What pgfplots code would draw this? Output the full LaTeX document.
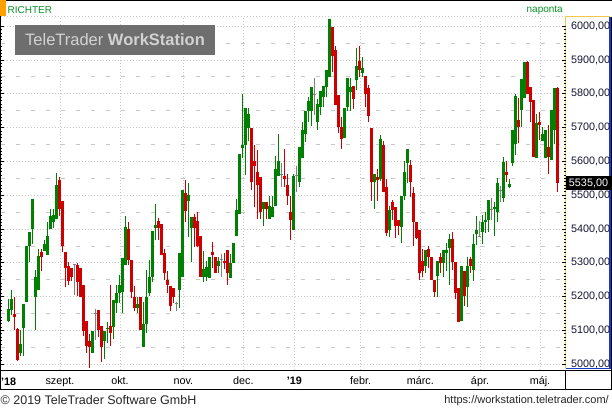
\documentclass[border=0pt]{standalone}
\usepackage{fontspec}
\setmainfont{Liberation Sans}
\usepackage{pgfplots}
\usepackage{pgfplotstable}
\pgfplotsset{compat=1.18}

\definecolor{cgreen}{RGB}{0,128,0}
\definecolor{cred}{RGB}{204,0,0}
\definecolor{cdoji}{RGB}{128,128,128}
\definecolor{gridgray}{RGB}{200,200,200}
\definecolor{ticktext}{RGB}{20,20,50}
\definecolor{cname}{RGB}{10,145,40}
\definecolor{corange}{RGB}{255,160,0}
\definecolor{cyellow}{RGB}{240,200,70}
\definecolor{cblue}{RGB}{20,60,200}
\definecolor{cwm}{RGB}{110,110,110}
\definecolor{cwmtext}{RGB}{210,210,210}

% daily candles: x = trading day, o h l c
\pgfplotstableread{
x o h l c
0 5129 5193 5126 5164
1 5161 5220 5146 5193
4 5034 5100 5025 5060
5 5107 5179 5025 5179
6 5185 5350 5185 5350
7 5350 5392 5301 5392
8 5401 5489 5356 5489
9 5200 5279 5100 5257
10 5220 5340 5220 5321
12 5335 5368 5335 5356
13 5322 5420 5322 5379
14 5401 5459 5401 5439
15 5421 5459 5403 5442
16 5431 5567 5431 5531
28 5034 5099 5034 5099
32 5070 5099 5015 5099
33 5105 5126 5064 5108
35 5111 5190 5075 5190
36 5181 5235 5151 5210
37 5210 5264 5181 5235
38 5215 5314 5151 5314
39 5294 5439 5294 5406
43 5166 5200 5151 5179
45 5050 5185 5050 5119
46 5119 5279 5092 5200
47 5212 5309 5202 5259
48 5257 5393 5242 5393
49 5403 5475 5366 5412
57 5220 5329 5166 5329
58 5259 5516 5259 5516
60 5482 5536 5376 5501
61 5403 5435 5301 5435
65 5257 5334 5242 5281
66 5257 5306 5247 5288
67 5255 5318 5255 5318
70 5292 5316 5269 5306
74 5255 5326 5255 5298
75 5298 5358 5298 5358
76 5378 5489 5378 5457
77 5445 5622 5445 5622
78 5639 5800 5610 5650
79 5650 5759 5561 5759
80 5699 5759 5660 5739
85 5459 5479 5409 5479
87 5430 5499 5430 5469
88 5435 5499 5435 5464
89 5469 5617 5469 5578
90 5558 5680 5558 5600
95 5398 5563 5398 5558
97 5538 5644 5523 5644
98 5609 5716 5609 5694
99 5681 5750 5658 5750
100 5750 5790 5718 5780
101 5750 5819 5704 5819
103 5718 5785 5694 5770
104 5760 5809 5737 5809
105 5790 5824 5760 5824
106 5819 5869 5790 5869
107 5849 6020 5849 6020
112 5668 5758 5668 5758
113 5760 5848 5750 5848
114 5805 5848 5750 5819
116 5841 5935 5811 5881
118 5862 5910 5849 5876
122 5538 5563 5459 5563
124 5548 5679 5543 5665
127 5398 5469 5377 5455
131 5405 5499 5358 5499
132 5499 5600 5486 5568
133 5595 5637 5535 5637
139 5292 5339 5269 5339
143 5262 5306 5198 5306
145 5298 5339 5257 5339
146 5329 5359 5275 5339
147 5343 5384 5234 5369
151 5127 5292 5127 5292
153 5228 5318 5168 5292
155 5279 5384 5247 5356
156 5384 5437 5354 5398
158 5392 5441 5357 5421
159 5421 5449 5388 5427
160 5426 5486 5390 5486
162 5459 5479 5378 5464
163 5449 5550 5422 5536
165 5493 5614 5479 5599
167 5523 5548 5520 5533
168 5594 5694 5585 5694
169 5651 5799 5619 5794
171 5753 5844 5701 5844
172 5789 5895 5789 5895
176 5609 5740 5609 5715
178 5659 5703 5659 5681
179 5609 5694 5609 5694
181 5604 5753 5604 5753
182 5694 5816 5651 5816
}\upcandles

\pgfplotstableread{
x o h l c
2 5150 5200 5100 5141
3 5105 5107 5009 5011
11 5331 5340 5277 5316
17 5546 5553 5439 5459
18 5482 5482 5331 5350
19 5331 5331 5227 5286
20 5291 5301 5235 5245
21 5286 5286 5245 5259
23 5294 5299 5202 5242
24 5284 5284 5200 5200
25 5235 5235 5082 5097
26 5128 5128 5032 5054
27 5069 5089 4990 5050
30 5161 5161 5080 5100
31 5113 5113 5006 5050
34 5113 5235 5055 5092
40 5400 5422 5294 5309
41 5309 5309 5195 5215
42 5200 5230 5156 5166
44 5200 5200 5100 5100
50 5424 5432 5368 5403
51 5415 5415 5324 5324
52 5329 5340 5250 5271
53 5250 5277 5210 5235
54 5230 5230 5156 5171
55 5225 5225 5181 5200
59 5506 5546 5422 5452
62 5435 5445 5346 5403
63 5423 5450 5346 5349
64 5379 5379 5257 5257
68 5333 5363 5285 5324
69 5318 5318 5269 5269
72 5306 5328 5282 5298
73 5339 5339 5234 5269
81 5699 5699 5516 5538
82 5600 5650 5464 5585
83 5570 5634 5430 5529
84 5553 5553 5430 5450
86 5479 5479 5430 5459
92 5558 5637 5524 5548
93 5529 5563 5472 5499
94 5449 5499 5368 5428
108 5999 5999 5864 5911
109 5931 5940 5767 5767
110 5797 5797 5684 5701
111 5701 5731 5637 5666
115 5824 5824 5755 5785
117 5898 5940 5849 5871
119 5854 5854 5760 5800
120 5816 5826 5718 5734
121 5699 5699 5484 5538
123 5553 5578 5484 5545
125 5650 5659 5508 5509
126 5524 5548 5380 5387
128 5479 5487 5428 5457
129 5464 5464 5374 5408
130 5428 5428 5381 5408
134 5588 5603 5494 5538
135 5507 5524 5349 5422
136 5420 5420 5369 5373
137 5398 5398 5249 5269
138 5306 5341 5257 5277
140 5341 5349 5286 5318
141 5318 5318 5249 5249
142 5249 5249 5198 5213
144 5318 5328 5269 5298
148 5369 5390 5279 5303
149 5303 5303 5193 5210
150 5226 5226 5124 5124
152 5277 5277 5173 5203
154 5311 5318 5269 5292
166 5569 5602 5538 5559
170 5723 5789 5653 5701
173 5895 5898 5799 5799
174 5819 5819 5718 5775
175 5783 5783 5614 5614
177 5718 5745 5663 5708
180 5643 5708 5564 5614
183 5816 5819 5508 5535
}\downcandles

\pgfplotstableread{
x o h l c
22 5294 5294 5205 5294
29 5149 5164 5072 5149
56 5181 5185 5156 5181
71 5310 5326 5257 5310
91 5562 5595 5524 5562
96 5558 5585 5508 5558
102 5797 5846 5737 5797
157 5377 5424 5375 5377
161 5457 5493 5427 5457
164 5513 5528 5479 5513
}\flatcandles

\newcommand{\lbl}{\fontsize{10.8bp}{12bp}\selectfont}

\begin{document}
\begin{tikzpicture}
\path[use as bounding box, fill=white] (0,0) rectangle (612bp,409bp);
% frame
\draw[black, line width=1bp] (0,408.5bp) -- (612bp,408.5bp);
\draw[black, line width=1bp] (0.5bp,409bp) -- (0.5bp,19.3bp);
\draw[black, line width=1bp] (611.5bp,392.3bp) -- (611.5bp,19.3bp);
\draw[black, line width=1bp] (0,38.5bp) -- (612bp,38.5bp);
\draw[black, line width=1bp] (0,19.3bp) -- (612bp,19.3bp);
\draw[black, line width=1bp] (565.5bp,38.5bp) -- (565.5bp,19.3bp);
\fill[corange] (0,392.5bp) rectangle (6bp,408.5bp);
\draw[gridgray, dash pattern=on 1bp off 2bp, line width=0.8bp] (1bp,392.3bp) -- (565bp,392.3bp);
\draw[cyellow, line width=1.2bp] (565.7bp,40.7bp) -- (565.7bp,392.3bp) -- (610bp,392.3bp);
\draw[cblue, line width=1.5bp] (565.7bp,40.7bp) -- (610bp,40.7bp) -- (610bp,392.3bp);

\begin{axis}[
    at={(0.5bp,38.5bp)}, anchor=south west,
    scale only axis, width=565bp, height=353.8bp,
    xmin=-2.6, xmax=185.73, ymin=4981.4, ymax=6028.1,
    clip=false,
    axis line style={draw=none},
    tick align=inside,
    ytick={5000,5100,...,6000},
    minor y tick num=9,
    ytick pos=both,
    yticklabel pos=right,
    major tick length=3.5bp, minor tick length=2bp,
    tick style={black, line width=0.7bp},
    xtick={17.23,37.23,58.34,78.34,95.34,117.4,137.34,157.23,177.23},
    xticklabels={szept.,okt.,nov.,dec.,\textbf{'19},febr.,márc.,ápr.,máj.},
    xtick style={draw=none},
    xmajorgrids, ymajorgrids,
    major grid style={draw=gridgray, dash pattern=on 1bp off 2bp, line width=0.8bp},
    extra y ticks={5050,5150,5250,5350,5450,5550,5650,5750,5850,5950},
    extra y tick labels={},
    extra y tick style={major tick length=0pt, grid=major,
        major grid style={draw=gridgray, dash pattern=on 4bp off 11bp, line width=0.8bp}},
    /pgf/number format/assume math mode=true,
    xticklabel style={font=\lbl, text=black, anchor=base, yshift=-14bp},
    yticklabel style={font=\lbl, text=ticktext, anchor=west, xshift=2bp,
        /pgf/number format/.cd, fixed, fixed zerofill, precision=2, use comma, 1000 sep={}},
    candle/.style={draw=none, mark=none, forget plot,
        error bars/.cd, y dir=plus, y explicit, error mark=none,
        error bar style={draw=#1, line width=1bp}},
    body/.style={draw=none, mark=none, forget plot,
        error bars/.cd, y dir=plus, y explicit, error mark=none,
        error bar style={draw=#1, line width=2.6bp}},
]
% wicks
\addplot[candle=cgreen] table[x=x, y=l, y error expr=\thisrow{h}-\thisrow{l}] {\upcandles};
\addplot[candle=cred] table[x=x, y=l, y error expr=\thisrow{h}-\thisrow{l}] {\downcandles};
\addplot[candle=cdoji] table[x=x, y=l, y error expr=\thisrow{h}-\thisrow{l}] {\flatcandles};
% bodies
\addplot[body=cgreen] table[x=x, y=o, y error expr=\thisrow{c}-\thisrow{o}] {\upcandles};
\addplot[body=cred] table[x=x, y=c, y error expr=\thisrow{o}-\thisrow{c}] {\downcandles};
\addplot[cdoji, only marks, mark=-, mark size=1.6bp, mark options={line width=1bp}]
    table[x=x, y=o] {\flatcandles};
% last price
\node[fill=black, text=white, font=\lbl, anchor=west, inner sep=0pt,
      minimum width=45bp, minimum height=14bp, xshift=0.3bp]
      at (axis cs:185.73,5535) {5535,00};
\end{axis}

% watermark and texts
\fill[cwm] (15bp,354bp) rectangle (215bp,384bp);
\node[text=cwmtext, font=\fontsize{16.5bp}{18bp}\selectfont, inner sep=0]
    at (115bp,369bp) {TeleTrader \textbf{WorkStation}};
\node[anchor=base west, text=cname, font=\fontsize{10bp}{12bp}\selectfont, inner sep=0]
    at (7.5bp,395.5bp) {RICHTER};
\node[anchor=base east, text=cname, font=\fontsize{10bp}{12bp}\selectfont, inner sep=0]
    at (563bp,396bp) {naponta};
\node[anchor=base west, font=\lbl\bfseries, inner sep=0] at (1bp,24bp) {'18};
\node[anchor=base west, text=black!85, font=\fontsize{12.5bp}{14bp}\selectfont, inner sep=0]
    at (0.5bp,5bp) {© 2019 TeleTrader Software GmbH};
\node[anchor=base east, text=black!85, font=\fontsize{11bp}{13bp}\selectfont, inner sep=0]
    at (609bp,5.7bp) {https://workstation.teletrader.com/};
\end{tikzpicture}
\end{document}
